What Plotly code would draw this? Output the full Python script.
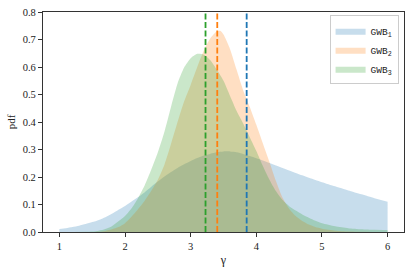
import plotly.graph_objects as go

# ---- data ----
gamma_gwb1 = [1.0, 1.1, 1.2, 1.3, 1.4, 1.5, 1.6, 1.7, 1.8, 1.9, 2.0, 2.1, 2.2, 2.3, 2.4, 2.5,
              2.6, 2.7, 2.8, 2.9, 3.0, 3.1, 3.2, 3.3, 3.4, 3.5, 3.6, 3.7, 3.8, 3.9, 4.0,
              4.1, 4.2, 4.3, 4.4, 4.5, 4.6, 4.7, 4.8, 4.9, 5.0, 5.2, 5.4, 5.6, 5.8, 6.0]
pdf_gwb1 = [0.011, 0.014, 0.018, 0.023, 0.029, 0.036, 0.044, 0.054, 0.066, 0.081, 0.095, 0.111,
            0.127, 0.145, 0.165, 0.184, 0.202, 0.218, 0.233, 0.246, 0.258, 0.269, 0.278, 0.285,
            0.290, 0.293, 0.293, 0.290, 0.284, 0.276, 0.268, 0.260, 0.251, 0.242, 0.233, 0.224,
            0.215, 0.206, 0.197, 0.189, 0.181, 0.166, 0.151, 0.137, 0.123, 0.110]

gamma_gwb2 = [1.0, 1.5, 1.6, 1.7, 1.8, 1.9, 2.0, 2.1, 2.2, 2.3, 2.4, 2.5, 2.6, 2.7, 2.8, 2.9,
              3.0, 3.1, 3.2, 3.3, 3.4, 3.45, 3.5, 3.6, 3.7, 3.8, 3.9, 4.0, 4.1, 4.2, 4.3,
              4.4, 4.5, 4.6, 4.7, 4.8, 4.9, 5.0, 5.2, 5.4, 5.6, 6.0]
pdf_gwb2 = [0.0, 0.0, 0.001, 0.004, 0.010, 0.018, 0.032, 0.056, 0.084, 0.114, 0.150, 0.190,
            0.245, 0.320, 0.400, 0.475, 0.535, 0.600, 0.660, 0.705, 0.730, 0.732, 0.718, 0.665,
            0.590, 0.515, 0.455, 0.390, 0.322, 0.255, 0.185, 0.125, 0.085, 0.058, 0.040, 0.027,
            0.018, 0.012, 0.005, 0.002, 0.001, 0.0]

gamma_gwb3 = [1.0, 1.4, 1.5, 1.6, 1.7, 1.8, 1.9, 2.0, 2.1, 2.2, 2.3, 2.4, 2.5, 2.6, 2.7, 2.8,
              2.9, 3.0, 3.1, 3.2, 3.3, 3.4, 3.5, 3.6, 3.7, 3.8, 3.9, 4.0, 4.1, 4.2, 4.3,
              4.4, 4.5, 4.6, 4.7, 4.8, 4.9, 5.0, 5.2, 5.4, 5.6, 5.8, 6.0]
pdf_gwb3 = [0.0, 0.001, 0.002, 0.005, 0.011, 0.021, 0.039, 0.058, 0.086, 0.124, 0.170, 0.227,
            0.290, 0.365, 0.455, 0.540, 0.598, 0.632, 0.648, 0.645, 0.625, 0.590, 0.550, 0.495,
            0.440, 0.395, 0.345, 0.295, 0.240, 0.190, 0.148, 0.116, 0.094, 0.078, 0.064, 0.052,
            0.041, 0.032, 0.021, 0.014, 0.010, 0.008, 0.007]

series_names = ["GWB<sub>1</sub>", "GWB<sub>2</sub>", "GWB<sub>3</sub>"]
true_values = [3.853, 3.405, 3.226]   # dashed vertical markers (GWB1, GWB2, GWB3)

x_ticks = [1, 2, 3, 4, 5, 6]
y_ticks = [0.0, 0.1, 0.2, 0.3, 0.4, 0.5, 0.6, 0.7, 0.8]
x_range = [0.75, 6.25]
y_range = [0.0, 0.8]

# ---- styles ----
line_colors = ["#1f77b4", "#ff7f0e", "#2ca02c"]
fill_colors = ["rgba(31,119,180,0.25)", "rgba(255,127,14,0.25)", "rgba(44,160,44,0.25)"]

fig = go.Figure()
for gx, gy, name, fc in zip([gamma_gwb1, gamma_gwb2, gamma_gwb3],
                            [pdf_gwb1, pdf_gwb2, pdf_gwb3],
                            series_names, fill_colors):
    fig.add_trace(go.Scatter(x=gx, y=gy, mode="lines", name=name,
                             line=dict(width=0, shape="spline", smoothing=0.6, color=fc),
                             fill="tozeroy", fillcolor=fc))

for v, c in zip(true_values, line_colors):
    fig.add_trace(go.Scatter(x=[v, v], y=y_range, mode="lines", showlegend=False,
                             line=dict(color=c, width=1.8, dash="6px,2.5px"),
                             hoverinfo="skip"))

serif = "Liberation Serif"
axis_common = dict(showline=True, linecolor="#333333", linewidth=1.2, mirror=True,
                   ticks="outside", ticklen=4, tickwidth=1, tickcolor="#333333",
                   showgrid=False, zeroline=False, automargin=False,
                   tickfont=dict(family=serif, size=10.5, color="#222222"))

fig.update_layout(
    width=416, height=273,
    margin=dict(l=43, r=12, t=12, b=41),
    paper_bgcolor="white", plot_bgcolor="white",
    xaxis=dict(range=x_range, tickvals=x_ticks, ticktext=[str(t) for t in x_ticks],
               title=dict(text="γ", font=dict(family=serif, size=12, color="#222222"),
                          standoff=4),
               **axis_common),
    yaxis=dict(range=y_range, tickvals=y_ticks, ticktext=[f"{t:.1f}" for t in y_ticks],
               title=dict(text="pdf", font=dict(family=serif, size=11, color="#222222"),
                          standoff=4),
               **axis_common),
    legend=dict(x=0.985, y=0.985, xanchor="right", yanchor="top",
                bgcolor="rgba(255,255,255,0.8)", bordercolor="#cccccc", borderwidth=1,
                font=dict(family="Liberation Mono", size=9.5, color="#222222"),
                itemwidth=30, tracegroupgap=0, traceorder="normal"),
    showlegend=True,
)

fig.write_html("out.html", config={"displayModeBar": False},
               post_script="document.body.style.margin='0px';document.body.style.overflow='hidden';")
